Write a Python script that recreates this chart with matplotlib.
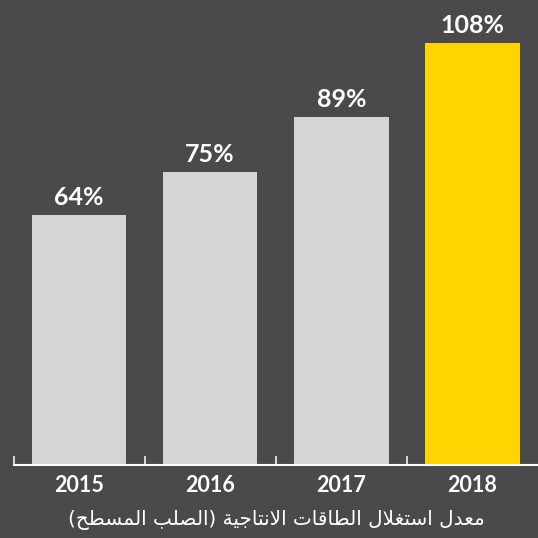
#!/usr/bin/env python3
# Bar chart: flat steel capacity utilisation rate, 2015-2018

import unicodedata
import matplotlib
matplotlib.use("Agg")
import matplotlib.pyplot as plt


years = ["2015", "2016", "2017", "2018"]
rates = [64, 75, 89, 108]
title = "معدل استغلال الطاقات الانتاجية (الصلب المسطح)"

BG = "#4a4a4c"
GREY = "#d4d5d7"
YELLOW = "#ffd400"


# matplotlib has no Arabic shaping, so pick the presentation forms by hand
# and put the string in visual (left-to-right) order
def shape_arabic(text: str) -> str:
    tokens = []
    i = 0
    while i < len(text):
        ch = text[i]
        if ch == "ل" and i + 1 < len(text) and text[i + 1] == "ا":
            tokens.append("ARABIC LIGATURE LAM WITH ALEF")
            i += 2
            continue
        name = unicodedata.name(ch, "")
        tokens.append(name if name.startswith("ARABIC LETTER") else ch)
        i += 1

    def is_letter(tok):
        return tok.startswith("ARABIC")

    def joins_next(tok):
        if not is_letter(tok):
            return False
        try:
            unicodedata.lookup(tok + " INITIAL FORM")
            return True
        except KeyError:
            return False

    out = []
    for k, tok in enumerate(tokens):
        if not is_letter(tok):
            out.append({"(": ")", ")": "("}.get(tok, tok))
            continue
        prev = k > 0 and joins_next(tokens[k - 1])
        nxt = joins_next(tok) and k + 1 < len(tokens) and is_letter(tokens[k + 1])
        if prev and nxt:
            form = "MEDIAL"
        elif prev:
            form = "FINAL"
        elif nxt:
            form = "INITIAL"
        else:
            form = "ISOLATED"
        out.append(unicodedata.lookup(f"{tok} {form} FORM"))
    return "".join(reversed(out))


fig = plt.figure(figsize=(5.38, 5.38), dpi=100, facecolor=BG)
ax = fig.add_axes([13.5 / 538, (538 - 465) / 538, (538 - 13.5) / 538, 465 / 538])
ax.set_facecolor(BG)

colors = [GREY] * (len(rates) - 1) + [YELLOW]
xs = list(range(len(years)))
ax.bar(xs, rates, width=0.72, color=colors)

# value labels above each bar
for x, v in zip(xs, rates):
    ax.annotate(f"{v}%", (x, v), xytext=(0, 7), textcoords="offset points",
                ha="center", va="baseline", color="white",
                fontsize=18, fontweight="bold", family="Lato")

ax.set_xlim(-0.5, 3.5)
ax.set_ylim(0, 465 / 3.91)

for side in ["top", "left", "right"]:
    ax.spines[side].set_visible(False)
ax.spines["bottom"].set_color("white")
ax.spines["bottom"].set_linewidth(1.5)

# small upward ticks between the bars, year labels under the bars
ax.set_xticks([-0.5, 0.5, 1.5, 2.5])
ax.set_xticklabels([])
ax.tick_params(axis="x", which="major", direction="in", length=6.5,
               width=1.1, color="white")
ax.set_xticks(xs, minor=True)
ax.set_xticklabels(years, minor=True)
ax.tick_params(axis="x", which="minor", length=0, pad=7, labelcolor="white",
               labelsize=15.5)
for lbl in ax.get_xticklabels(minor=True):
    lbl.set_fontweight("bold")
    lbl.set_family("Lato")
ax.set_yticks([])

fig.text(276.5 / 538, 1 - 520 / 538, shape_arabic(title), ha="center",
         va="center", color="white", fontsize=14.4, family="DejaVu Sans")

fig.savefig("out.png", dpi=100, facecolor=BG)
